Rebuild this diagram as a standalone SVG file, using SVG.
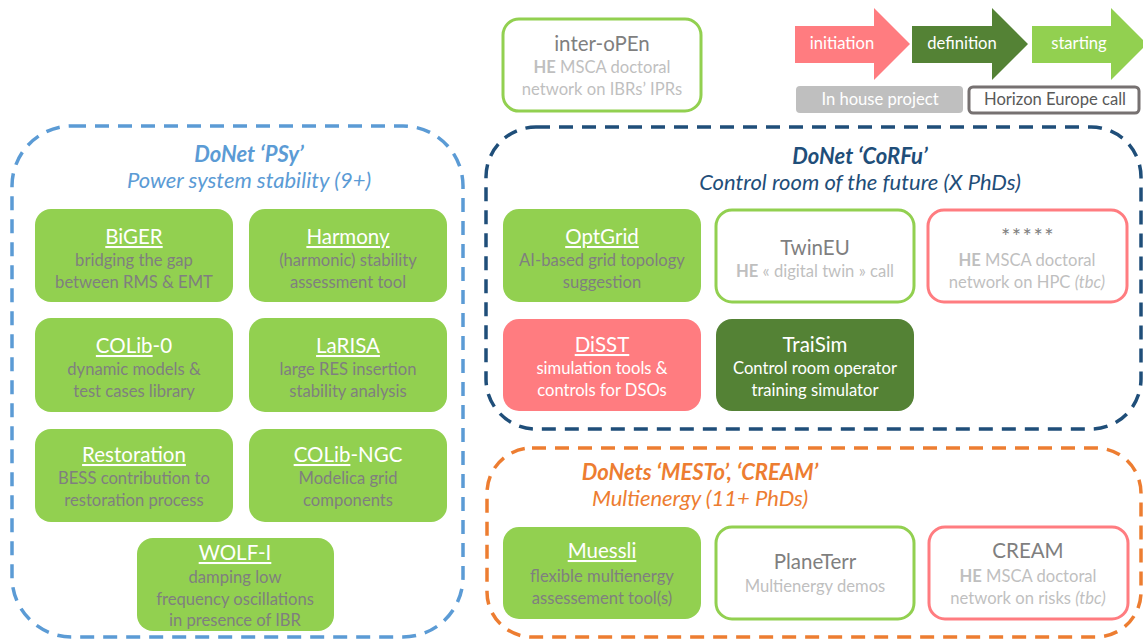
<svg xmlns="http://www.w3.org/2000/svg" width="1143" height="639" viewBox="0 0 1143 639">
<style>
text{font-family:Lato,"Open Sans","Liberation Sans",sans-serif;text-anchor:middle}
.panel{fill:none;stroke-width:3.5;stroke-dasharray:14 9}
.gbox{fill:#92D050}
.wbox{fill:#fff;stroke-width:3}
.t{font-size:20.5px;fill:#fff}
.u{text-decoration:underline}
.d{font-size:16.6px;fill:#7F7F7F}
.dw{font-size:16.6px;fill:#fff}
.tg{font-size:20.5px;fill:#7F7F7F}
.s{font-size:16.6px;fill:#BFBFBF}
.b{font-weight:bold}
.pt{font-size:22px;font-weight:bold;font-style:italic}
.ps{font-size:22px;font-style:italic}
.ar{font-size:16.6px;fill:#fff}
.lg{font-size:16.6px}
</style>
<rect width="1143" height="639" fill="#fff"/>

<g id="panels">
<rect id="panel-psy" class="panel" x="12" y="126" width="451" height="511" rx="60" stroke="#5B9BD5"/>
<rect id="panel-corfu" class="panel" x="486" y="127" width="655" height="302" rx="50" stroke="#1F4E79"/>
<rect id="panel-mesto" class="panel" x="487" y="448" width="654" height="189" rx="45" stroke="#ED7D31"/>
</g>

<g id="titles">
<text class="pt" x="249" y="162" fill="#5B9BD5">DoNet ‘PSy’</text>
<text class="ps" x="249" y="188" fill="#5B9BD5">Power system stability (9+)</text>
<text class="pt" x="860" y="164" fill="#1F4E79">DoNet ‘CoRFu’</text>
<text class="ps" x="860" y="190" fill="#1F4E79">Control room of the future (X PhDs)</text>
<text class="pt" x="700" y="480" fill="#ED7D31">DoNets ‘MESTo’, ‘CREAM’</text>
<text class="ps" x="700" y="506" fill="#ED7D31">Multienergy (11+ PhDs)</text>
</g>

<g id="legend">
<polygon points="795,26 874,26 874,8 910,44 874,80 874,63 795,63" fill="#FF7C80"/>
<text class="ar" x="842" y="49">initiation</text>
<polygon points="912,26 992,26 992,8 1028,44 992,80 992,63 912,63" fill="#548235"/>
<text class="ar" x="962" y="49">definition</text>
<polygon points="1032,26 1111,26 1111,8 1147,44 1111,80 1111,63 1032,63" fill="#92D050"/>
<text class="ar" x="1079" y="49">starting</text>
<rect x="796" y="86" width="167" height="27" rx="4" fill="#BFBFBF"/>
<text class="lg" x="880" y="105" fill="#fff">In house project</text>
<rect x="969" y="87" width="170" height="26" rx="4" fill="#fff" stroke="#767171" stroke-width="3"/>
<text class="lg" x="1055" y="105" fill="#595959">Horizon Europe call</text>
</g>

<g id="inter-open">
<rect class="wbox" x="503" y="19" width="198" height="92" rx="16" stroke="#92D050"/>
<text class="tg" x="602" y="51">inter-oPEn</text>
<text class="s" x="602" y="73"><tspan class="b">HE</tspan> MSCA doctoral</text>
<text class="s" x="602" y="95">network on IBRs’ IPRs</text>
</g>

<g id="biger">
<rect class="gbox" x="35" y="209" width="198" height="93" rx="16"/>
<text class="t" x="134" y="244"><tspan class="u">BiGER</tspan></text>
<text class="d" x="134" y="266">bridging the gap</text>
<text class="d" x="134" y="288">between RMS &amp; EMT</text>
</g>
<g id="harmony">
<rect class="gbox" x="249" y="209" width="198" height="93" rx="16"/>
<text class="t" x="348" y="244"><tspan class="u">Harmony</tspan></text>
<text class="d" x="348" y="266">(harmonic) stability</text>
<text class="d" x="348" y="288">assessment  tool</text>
</g>
<g id="colib-0">
<rect class="gbox" x="35" y="318" width="198" height="94" rx="16"/>
<text class="t" x="134" y="353"><tspan class="u">COLib</tspan>-0</text>
<text class="d" x="134" y="375">dynamic models &amp;</text>
<text class="d" x="134" y="397">test cases library</text>
</g>
<g id="larisa">
<rect class="gbox" x="249" y="318" width="198" height="94" rx="16"/>
<text class="t" x="348" y="353"><tspan class="u">LaRISA</tspan></text>
<text class="d" x="348" y="375">large RES insertion</text>
<text class="d" x="348" y="397">stability analysis</text>
</g>
<g id="restoration">
<rect class="gbox" x="35" y="429" width="198" height="93" rx="16"/>
<text class="t" x="134" y="462"><tspan class="u">Restoration</tspan></text>
<text class="d" x="134" y="484">BESS contribution to</text>
<text class="d" x="134" y="506">restoration process</text>
</g>
<g id="colib-ngc">
<rect class="gbox" x="249" y="429" width="198" height="93" rx="16"/>
<text class="t" x="348" y="462"><tspan class="u">COLib</tspan>-NGC</text>
<text class="d" x="348" y="484">Modelica grid</text>
<text class="d" x="348" y="506">components</text>
</g>
<g id="wolf-i">
<rect class="gbox" x="137" y="538" width="197" height="93" rx="16"/>
<text class="t" x="235" y="560"><tspan class="u">WOLF-I</tspan></text>
<text class="d" x="235" y="583">damping low</text>
<text class="d" x="235" y="605">frequency oscillations</text>
<text class="d" x="235" y="626">in presence of IBR</text>
</g>

<g id="optgrid">
<rect class="gbox" x="503" y="209" width="198" height="93" rx="16"/>
<text class="t" x="602" y="244"><tspan class="u">OptGrid</tspan></text>
<text class="d" x="602" y="266">AI-based grid topology</text>
<text class="d" x="602" y="288">suggestion</text>
</g>
<g id="twineu">
<rect class="wbox" x="716" y="210" width="198" height="92" rx="16" stroke="#92D050"/>
<text class="tg" x="815" y="255">TwinEU</text>
<text class="s" x="815" y="277"><tspan class="b">HE</tspan> « digital twin » call</text>
</g>
<g id="hpc">
<rect class="wbox" x="928" y="210" width="199" height="92" rx="16" stroke="#FF7C80"/>
<text x="1028" y="244" font-family="'DejaVu Sans',sans-serif" font-size="22px" letter-spacing="1.5" fill="#7F7F7F">*****</text>
<text class="s" x="1027" y="266"><tspan class="b">HE</tspan> MSCA doctoral</text>
<text class="s" x="1027" y="288">network on HPC <tspan font-style="italic">(tbc)</tspan></text>
</g>
<g id="disst">
<rect x="503" y="319" width="198" height="92" rx="16" fill="#FF7C80"/>
<text class="t" x="602" y="352"><tspan class="u">DiSST</tspan></text>
<text class="dw" x="602" y="374">simulation tools &amp;</text>
<text class="dw" x="602" y="396">controls for DSOs</text>
</g>
<g id="traisim">
<rect x="716" y="319" width="198" height="92" rx="16" fill="#548235"/>
<text class="t" x="815" y="352">TraiSim</text>
<text class="dw" x="815" y="374">Control room operator</text>
<text class="dw" x="815" y="396">training simulator</text>
</g>

<g id="muessli">
<rect class="gbox" x="503" y="527" width="198" height="92" rx="16"/>
<text class="t" x="602" y="558"><tspan class="u">Muessli</tspan></text>
<text class="d" x="602" y="582">flexible multienergy</text>
<text class="d" x="602" y="604">assessement  tool(s)</text>
</g>
<g id="planeterr">
<rect class="wbox" x="716" y="527" width="198" height="92" rx="16" stroke="#92D050"/>
<text class="tg" x="815" y="569">PlaneTerr</text>
<text class="s" x="815" y="592">Multienergy demos</text>
</g>
<g id="cream">
<rect class="wbox" x="929" y="527" width="199" height="92" rx="16" stroke="#FF7C80"/>
<text class="tg" x="1028" y="558">CREAM</text>
<text class="s" x="1028" y="582"><tspan class="b">HE</tspan> MSCA doctoral</text>
<text class="s" x="1028" y="604">network on risks <tspan font-style="italic">(tbc)</tspan></text>
</g>

<g id="connectors"></g>
</svg>
